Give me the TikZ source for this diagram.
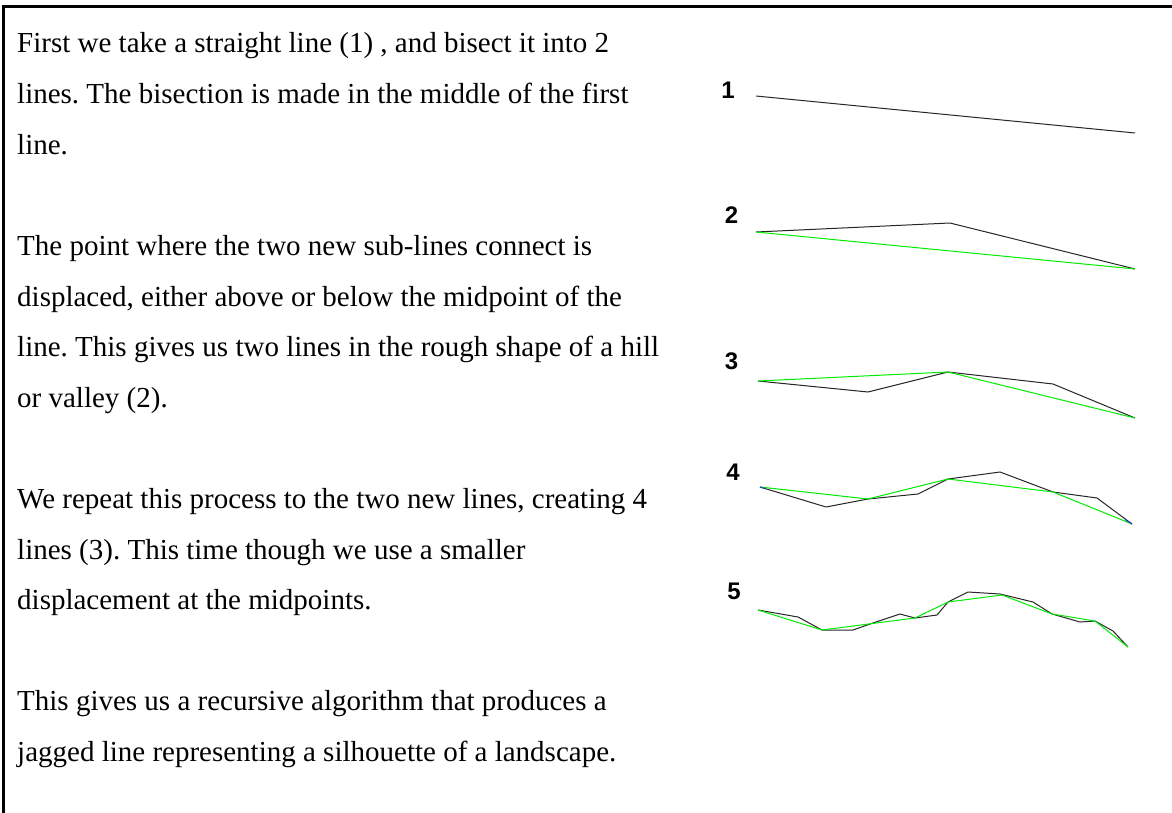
\documentclass[tikz,border=0pt]{standalone}
\usepackage{fontspec}
\setmainfont{Liberation Serif}
\newfontfamily\numfont{Liberation Sans}
\frenchspacing

\definecolor{stepgreen}{RGB}{0,235,0}
\definecolor{tipblue}{RGB}{40,50,210}

\tikzset{
  bodytext/.style={anchor=base west, inner sep=0pt, font=\fontsize{29}{35}\selectfont},
  stagenum/.style={inner sep=0pt, font=\numfont\bfseries\fontsize{24}{24}\selectfont},
  subdiv/.style={black!85, line width=1pt, line join=round},
  prevstep/.style={stepgreen, line width=1pt, line join=round}
}

\begin{document}
\begin{tikzpicture}[x=1pt, y=-1pt]
    \useasboundingbox (0,0) rectangle (1172,813);
    % frame
    \draw[line width=2.5pt] (3.5,813) -- (3.5,6.5) -- (1172,6.5);

    % text column
    \node[bodytext] (pa1) at (17,53)    {First we take a straight line (1) , and bisect it into 2};
    \node[bodytext] (pa2) at (17,103.6) {lines. The bisection is made in the middle of the first};
    \node[bodytext] (pa3) at (17,154.2) {line.};

    \node[bodytext] (pb1) at (17,255.4) {The point where the two new sub-lines connect is};
    \node[bodytext] (pb2) at (17,306)   {displaced, either above or below the midpoint of the};
    \node[bodytext] (pb3) at (17,356.6) {line. This gives us two lines in the rough shape of a hill};
    \node[bodytext] (pb4) at (17,407.2) {or valley (2).};

    \node[bodytext] (pc1) at (17,508.4) {We repeat this process to the two new lines, creating 4};
    \node[bodytext] (pc2) at (17,559)   {lines (3). This time though we use a smaller};
    \node[bodytext] (pc3) at (17,609.6) {displacement at the midpoints.};

    \node[bodytext] (pd1) at (17,710.8) {This gives us a recursive algorithm that produces a};
    \node[bodytext] (pd2) at (17,761.4) {jagged line representing a silhouette of a landscape.};

    % stage numbers
    \node[stagenum] (n1) at (728,90)    {1};
    \node[stagenum] (n2) at (731.5,215) {2};
    \node[stagenum] (n3) at (731.5,361) {3};
    \node[stagenum] (n4) at (733,472)   {4};
    \node[stagenum] (n5) at (734,591)   {5};

    % stage 1
    \draw[subdiv] (756,96) -- (1135,133);
    % stage 2
    \draw[subdiv] (756,232) -- (950,223) -- (1135,269);
    \draw[prevstep] (756,232) -- (1135,269);
    % stage 3
    \draw[subdiv] (758,381) -- (868,392) -- (948,372) -- (1053,384) -- (1135,418);
    \draw[prevstep] (758,381) -- (948,372) -- (1135,418);
    % stage 4
    \draw[subdiv] (760,487) -- (826,507) -- (868,499) -- (918,494) -- (948,479)
        -- (1000,472) -- (1053,492) -- (1097,498) -- (1132,524);
    \draw[prevstep] (760,487) -- (868,499) -- (948,479) -- (1053,492) -- (1132,524);
    \draw[tipblue, line width=1pt] (760,487) -- (765,488.5);
    \draw[tipblue, line width=1pt] (1125,519.5) -- (1132,524);
    % stage 5
    \draw[subdiv] (758,610) -- (798,617) -- (822,630) -- (853,630) -- (873,623)
        -- (900,614) -- (915,618) -- (937,615) -- (948,602) -- (968,592)
        -- (1000,594) -- (1033,602) -- (1052,614) -- (1080,622) -- (1095,621)
        -- (1113,631) -- (1128,647);
    \draw[prevstep] (758,610) -- (822,630) -- (915,618) -- (948,602) -- (1002,595)
        -- (1052,614) -- (1095,621) -- (1128,647);
\end{tikzpicture}
\end{document}
